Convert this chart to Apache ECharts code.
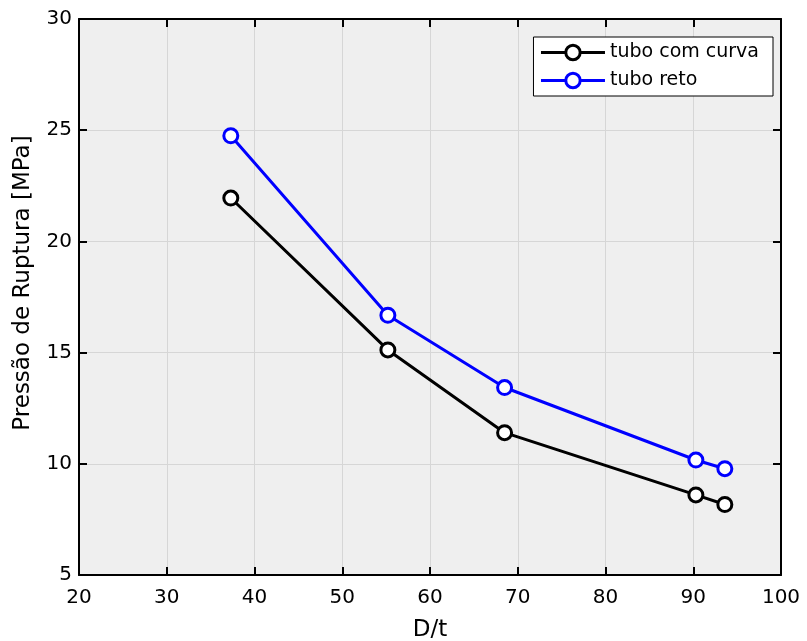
<!DOCTYPE html>
<html>
<head>
<meta charset="utf-8">
<script src="https://cdn.jsdelivr.net/npm/echarts@6/dist/echarts.min.js"></script>
<style>
  html, body { margin: 0; padding: 0; background: #ffffff; }
  #chart { width: 807px; height: 641px; }
</style>
</head>
<body>
<div id="chart"></div>
<script>
// Razão diâmetro/espessura (D/t) e pressão de ruptura medida
const dtValues = [37.3, 55.2, 68.5, 90.3, 93.6];
const pressaoCurva = [21.95, 15.12, 11.4, 8.6, 8.17];
const pressaoReto = [24.75, 16.68, 13.43, 10.17, 9.78];
const seriesNames = ['tubo com curva', 'tubo reto'];
const xTicks = [20, 30, 40, 50, 60, 70, 80, 90, 100];
const yTicks = [5, 10, 15, 20, 25, 30];

const FONT = 'DejaVu Sans';

const pairs = (xs, ys) => xs.map((x, i) => [x, ys[i]]);

const chart = echarts.init(document.getElementById('chart'), null, { renderer: 'canvas' });

const axisLineStyle = { color: '#000', width: 2 };
const tickStyle = { show: true, inside: true, length: 8, lineStyle: { color: '#000', width: 2 } };
const gridLine = { show: true, lineStyle: { color: '#d6d6d6', width: 1 } };

chart.setOption({
  animation: false,
  backgroundColor: '#ffffff',
  grid: {
    left: 79, right: 26, top: 19, bottom: 66,
    outerBoundsMode: 'none',
    containLabel: false,
    show: true, backgroundColor: '#efefef', borderWidth: 0
  },
  legend: {
    right: 34, top: 37,
    orient: 'vertical',
    itemWidth: 64, itemHeight: 18, itemGap: 9,
    padding: [6, 14, 6, 6],
    backgroundColor: '#ffffff',
    borderColor: '#000', borderWidth: 1, borderRadius: 0,
    lineStyle: { width: 3 },
    itemStyle: { borderWidth: 3 },
    textStyle: { fontFamily: FONT, fontSize: 19, color: '#000' },
    data: seriesNames
  },
  xAxis: [{
    type: 'value', min: xTicks[0], max: xTicks[xTicks.length - 1], interval: 10,
    name: 'D/t', nameLocation: 'middle', nameGap: 44,
    nameTextStyle: { fontFamily: FONT, fontSize: 23, color: '#000' },
    axisLine: { show: true, onZero: false, lineStyle: axisLineStyle },
    axisTick: tickStyle,
    axisLabel: { fontFamily: FONT, fontSize: 20, color: '#000', margin: 13 },
    splitLine: gridLine
  }, {
    type: 'value', position: 'top', min: xTicks[0], max: xTicks[xTicks.length - 1], interval: 10,
    axisLine: { show: true, onZero: false, lineStyle: axisLineStyle },
    axisTick: tickStyle,
    axisLabel: { show: false },
    splitLine: { show: false }
  }],
  yAxis: [{
    type: 'value', min: yTicks[0], max: yTicks[yTicks.length - 1], interval: 5,
    name: 'Pressão de Ruptura [MPa]', nameLocation: 'middle', nameGap: 44, nameRotate: 90,
    nameTextStyle: { fontFamily: FONT, fontSize: 23, color: '#000', padding: [0, 0, 0, 28] },
    axisLine: { show: true, onZero: false, lineStyle: axisLineStyle },
    axisTick: tickStyle,
    axisLabel: { fontFamily: FONT, fontSize: 20, color: '#000', margin: 7 },
    splitLine: gridLine
  }, {
    type: 'value', position: 'right', min: yTicks[0], max: yTicks[yTicks.length - 1], interval: 5,
    axisLine: { show: true, onZero: false, lineStyle: axisLineStyle },
    axisTick: tickStyle,
    axisLabel: { show: false },
    splitLine: { show: false }
  }],
  series: [{
    name: seriesNames[0], type: 'line',
    data: pairs(dtValues, pressaoCurva),
    symbol: 'circle', symbolSize: 14,
    lineStyle: { color: '#000000', width: 3 },
    itemStyle: { color: '#ffffff', borderColor: '#000000', borderWidth: 3 },
    z: 3
  }, {
    name: seriesNames[1], type: 'line',
    data: pairs(dtValues, pressaoReto),
    symbol: 'circle', symbolSize: 14,
    lineStyle: { color: '#0000ff', width: 3 },
    itemStyle: { color: '#ffffff', borderColor: '#0000ff', borderWidth: 3 },
    z: 3
  }]
});
</script>
</body>
</html>
